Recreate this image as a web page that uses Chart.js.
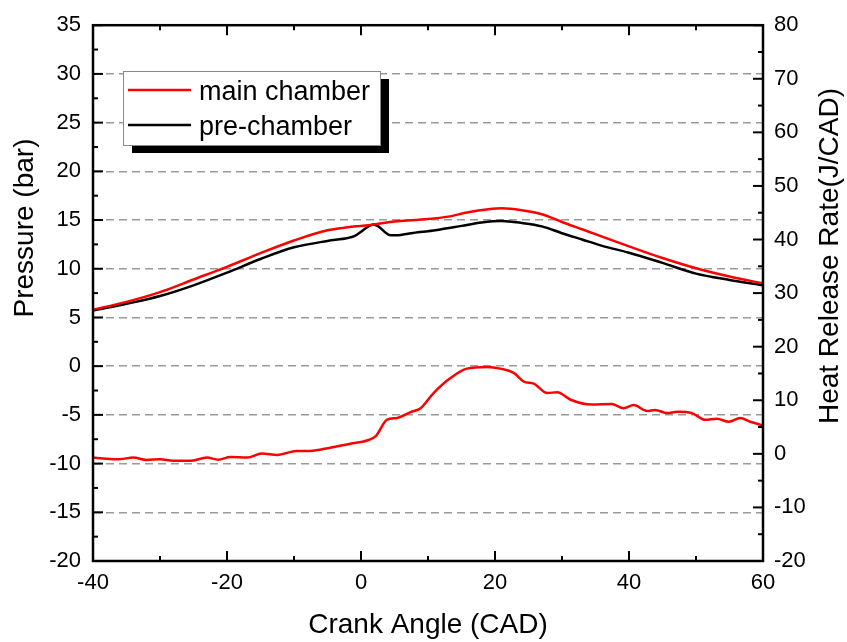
<!DOCTYPE html>
<html>
<head>
<meta charset="utf-8">
<script src="https://cdn.jsdelivr.net/npm/chart.js@4.4.1/dist/chart.umd.min.js"></script>
<style>
  body { margin: 0; background: #fff; }
  #wrap { width: 847px; height: 642px; position: relative; }
</style>
</head>
<body>
<div id="wrap"><canvas id="myChart"></canvas></div>
<script>
// main chamber pressure (bar)
var mainAngle = [-40, -35, -30, -25, -20, -15, -10, -5, -2, 0, 2, 5, 8, 10, 13, 16, 19, 21, 24, 27, 30, 33, 36, 40, 45, 50, 55, 60];
var mainPressure = [5.8, 6.6, 7.6, 8.9, 10.2, 11.6, 12.9, 13.95, 14.25, 14.4, 14.55, 14.85, 15.0, 15.1, 15.35, 15.8, 16.1, 16.2, 16.0, 15.6, 14.8, 14.05, 13.3, 12.3, 11.1, 10.05, 9.2, 8.5];

// pre-chamber pressure (bar)
var preAngle = [-40, -35, -30, -25, -20, -15, -10, -5, -2, -1, 0, 1, 1.8, 2.6, 3.5, 4.4, 5.5, 7, 8.5, 10, 12, 15, 18, 21, 24, 27, 30, 33, 36, 40, 45, 50, 55, 60];
var prePressure = [5.7, 6.4, 7.2, 8.3, 9.6, 11.0, 12.2, 12.85, 13.15, 13.35, 13.8, 14.3, 14.55, 14.35, 13.8, 13.45, 13.45, 13.6, 13.75, 13.85, 14.05, 14.4, 14.75, 14.9, 14.7, 14.35, 13.65, 13.0, 12.35, 11.65, 10.6, 9.5, 8.85, 8.3];

// heat release rate (J/CAD), right axis
var hrrAngle = [-40, -38, -36, -34, -32, -30, -28, -25.5, -23, -21.3, -19.5, -17, -14.8, -12.5, -9.6, -7.6, -4.6, -1.6, 0.9, 2.2, 3.9, 5.4, 7.4, 8.9, 10.8, 13.3, 15.8, 18.8, 20.8, 22.8, 24.3, 25.8, 27.8, 29.3, 31.3, 34.4, 37.4, 39.2, 40.7, 42.7, 43.9, 45.7, 47.2, 49.4, 51.4, 53.1, 54.9, 56.6, 58.1, 60];
var hrrRate = [-0.7, -0.9, -1.0, -0.7, -1.15, -1.0, -1.3, -1.3, -0.7, -1.1, -0.6, -0.7, 0.05, -0.2, 0.55, 0.55, 1.15, 1.9, 2.5, 3.3, 6.4, 6.7, 7.8, 8.5, 11.3, 14.1, 15.9, 16.2, 15.9, 15.1, 13.5, 13.1, 11.35, 11.5, 10.1, 9.2, 9.3, 8.5, 9.1, 8.0, 8.2, 7.6, 7.85, 7.6, 6.35, 6.55, 6.0, 6.7, 6.0, 5.3];

var xTicks = { min: -40, max: 60, step: 20 };
var leftTicks = { min: -20, max: 35, step: 5 };
var rightTicks = { min: -20, max: 80, step: 10 };

var FONT = "'Liberation Sans', Arial, sans-serif";

function toPoints(xs, ys) {
    var pts = [];
    for (var i = 0; i < xs.length; i++) pts.push({ x: xs[i], y: ys[i] });
    return pts;
}

// frame, inward ticks, y titles and the boxed legend
var decorations = {
    id: 'decorations',
    afterDraw: function(chart) {
        var ctx = chart.ctx, a = chart.chartArea, s = chart.scales;
        ctx.save();
        ctx.strokeStyle = '#000';
        ctx.lineWidth = 2;
        function seg(x1, y1, x2, y2) { ctx.beginPath(); ctx.moveTo(x1, y1); ctx.lineTo(x2, y2); ctx.stroke(); }
        var v, p, len;
        for (v = xTicks.min; v <= xTicks.max; v += xTicks.step / 2) {
            p = s.x.getPixelForValue(v);
            len = (v - xTicks.min) % xTicks.step === 0 ? 10 : 5;
            seg(p, a.bottom, p, a.bottom - len);
            seg(p, a.top, p, a.top + len);
        }
        for (v = leftTicks.min; v <= leftTicks.max; v += leftTicks.step / 2) {
            p = s.y.getPixelForValue(v);
            len = (v - leftTicks.min) % leftTicks.step === 0 ? 10 : 5;
            seg(a.left, p, a.left + len, p);
        }
        for (v = rightTicks.min; v <= rightTicks.max; v += rightTicks.step / 2) {
            p = s.y2.getPixelForValue(v);
            len = (v - rightTicks.min) % rightTicks.step === 0 ? 10 : 5;
            seg(a.right, p, a.right - len, p);
        }
        ctx.lineWidth = 2.5;
        ctx.strokeRect(a.left, a.top, a.right - a.left, a.bottom - a.top);

        // axis titles
        ctx.fillStyle = '#000';
        ctx.font = '28px ' + FONT;
        ctx.textAlign = 'center';
        ctx.textBaseline = 'middle';
        ctx.save();
        ctx.translate(25, 228);
        ctx.rotate(-Math.PI / 2);
        ctx.fillText('Pressure (bar)', 0, 0);
        ctx.restore();
        ctx.save();
        ctx.translate(830, 256);
        ctx.rotate(-Math.PI / 2);
        ctx.fillText('Heat Release Rate(J/CAD)', 0, 0);
        ctx.restore();

        // legend box with shadow
        var bx = a.left + 30, by = 71, bw = 257, bh = 74;
        ctx.fillStyle = '#000';
        ctx.fillRect(bx + 9, by + 8, bw, bh);
        ctx.fillStyle = '#fff';
        ctx.fillRect(bx, by, bw, bh);
        ctx.strokeStyle = '#8a8a8a';
        ctx.lineWidth = 1;
        ctx.strokeRect(bx + 0.5, by + 0.5, bw, bh);
        ctx.font = '27px ' + FONT;
        ctx.textAlign = 'left';
        ctx.textBaseline = 'alphabetic';
        for (var i = 0; i < 2; i++) {
            var ds = chart.data.datasets[i];
            var ly = by + 19 + i * 35;
            ctx.strokeStyle = ds.borderColor;
            ctx.lineWidth = 2.5;
            seg(bx + 5, ly, bx + 68, ly);
            ctx.fillStyle = '#000';
            ctx.fillText(ds.label, bx + 76, ly + 10);
        }
        ctx.restore();
    }
};

function drawChart() {
    var ctx = document.getElementById('myChart').getContext('2d');
    var myChart = new Chart(ctx, {
        type: 'line',
        data: {
            datasets: [
                { label: 'main chamber', data: toPoints(mainAngle, mainPressure), borderColor: '#ff0000', yAxisID: 'y' },
                { label: 'pre-chamber', data: toPoints(preAngle, prePressure), borderColor: '#000000', yAxisID: 'y' },
                { label: 'heat release', data: toPoints(hrrAngle, hrrRate), borderColor: '#ff0000', yAxisID: 'y2' }
            ]
        },
        options: {
            responsive: true,
            maintainAspectRatio: false,
            animation: false,
            layout: { padding: { top: 21, left: 0, right: 0, bottom: 0 } },
            elements: {
                point: { radius: 0 },
                line: { borderWidth: 2.5, tension: 0.35, cubicInterpolationMode: 'monotone' }
            },
            plugins: { legend: { display: false }, tooltip: { enabled: false } },
            scales: {
                x: {
                    type: 'linear', position: 'bottom',
                    min: xTicks.min, max: xTicks.max,
                    ticks: { stepSize: xTicks.step, color: '#000', padding: 9, font: { family: FONT, size: 22 } },
                    grid: { display: false, drawTicks: false },
                    border: { display: false },
                    title: { display: true, text: 'Crank Angle (CAD)', color: '#000', padding: { top: 0, bottom: 0 }, font: { family: FONT, size: 28 } },
                    afterFit: function(sc) { sc.height = 81; }
                },
                y: {
                    position: 'left',
                    min: leftTicks.min, max: leftTicks.max,
                    ticks: { stepSize: leftTicks.step, color: '#000', padding: 12, font: { family: FONT, size: 22 } },
                    grid: {
                        drawTicks: false, lineWidth: 1.5,
                        color: function(c) {
                            var v = c.tick ? c.tick.value : null;
                            return (v === leftTicks.min || v === leftTicks.max) ? 'rgba(0,0,0,0)' : '#9a9a9a';
                        }
                    },
                    border: { display: false, dash: [8, 5] },
                    afterFit: function(sc) { sc.width = 93; }
                },
                y2: {
                    position: 'right',
                    min: rightTicks.min, max: rightTicks.max,
                    ticks: { stepSize: rightTicks.step, color: '#000', padding: 11, font: { family: FONT, size: 22 } },
                    grid: { display: false, drawTicks: false },
                    border: { display: false },
                    afterFit: function(sc) { sc.width = 84; }
                }
            }
        },
        plugins: [decorations]
    });
}

drawChart();
</script>
</body>
</html>
